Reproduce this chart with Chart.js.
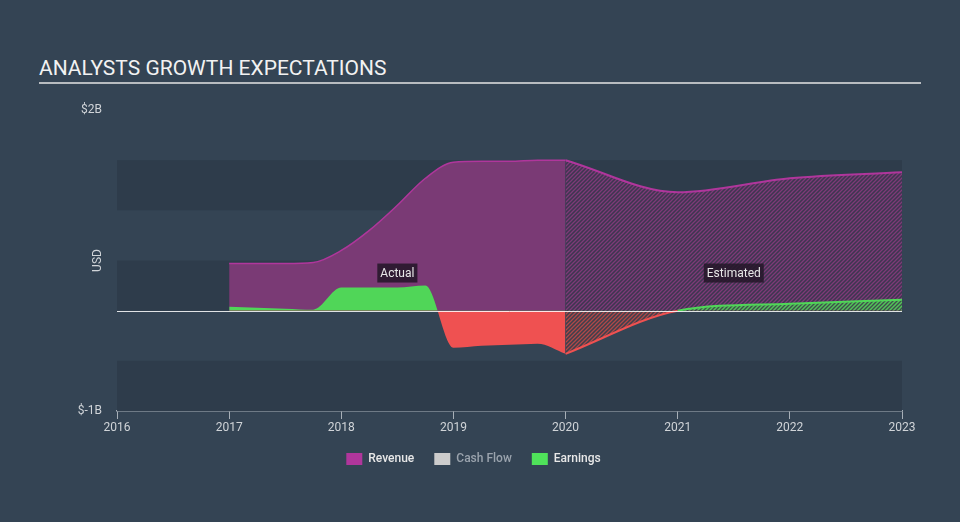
<!DOCTYPE html>
<html>
<head>
<meta charset="utf-8">
<script src="https://cdn.jsdelivr.net/npm/chart.js@4.4.0/dist/chart.umd.min.js"></script>
<style>
  html, body { margin: 0; padding: 0; background: #344454; }
  #wrap { position: relative; width: 960px; height: 522px; }
  #title {
    position: absolute; left: 39px; top: 57px; width: 882px;
    font-family: Roboto, sans-serif; font-size: 21px; color: #f2f2f2;
    padding-bottom: 3px; border-bottom: 2px solid #b8bcc0; line-height: 22px;
  }
  canvas { position: absolute; left: 0; top: 0; }
</style>
</head>
<body>
<div id="wrap">
  <div id="title">ANALYSTS GROWTH EXPECTATIONS</div>
  <canvas id="c" width="960" height="522"></canvas>
</div>
<script>
// values in $B, x in years
const revenueYears = [2017, 2017.25, 2017.5, 2017.75, 2018, 2018.25, 2018.5, 2018.75, 2019, 2019.25, 2019.5, 2019.75, 2020];
const revenueActual = [0.47, 0.47, 0.47, 0.48, 0.60, 0.80, 1.05, 1.32, 1.48, 1.49, 1.49, 1.50, 1.50];
const estYears = [2020, 2021, 2022, 2023];
const revenueEst = [1.50, 1.18, 1.32, 1.38];
const earningsYears = [2017, 2017.25, 2017.5, 2017.75, 2018, 2018.25, 2018.5, 2018.75, 2019, 2019.25, 2019.5, 2019.75, 2020];
const earningsActual = [0.04, 0.03, 0.02, 0.01, 0.23, 0.23, 0.23, 0.25, -0.37, -0.35, -0.34, -0.33, -0.43];
const earningsEst = [-0.43, 0.0, 0.07, 0.11];
const yearTicks = [2016, 2017, 2018, 2019, 2020, 2021, 2022, 2023];

const pts = (xs, ys) => xs.map((x, i) => ({ x: x, y: ys[i] }));

function hatch(bg, line) {
  var p = document.createElement('canvas');
  p.width = 4; p.height = 4;
  var c = p.getContext('2d');
  c.fillStyle = bg; c.fillRect(0, 0, 4, 4);
  c.strokeStyle = line; c.lineWidth = 1.3;
  c.beginPath();
  c.moveTo(0, 4); c.lineTo(4, 0);
  c.moveTo(-1, 1); c.lineTo(1, -1);
  c.moveTo(3, 5); c.lineTo(5, 3);
  c.stroke();
  return document.getElementById('c').getContext('2d').createPattern(p, 'repeat');
}

const extras = {
  id: 'extras',
  beforeDatasetsDraw(chart) {
    var ctx = chart.ctx, a = chart.chartArea, y = chart.scales.y;
    ctx.save();
    ctx.fillStyle = '#2e3c4b';
    [[1, 1.5], [0, 0.5], [-1, -0.5]].forEach(function (b) {
      var t = y.getPixelForValue(b[1]), bt = y.getPixelForValue(b[0]);
      ctx.fillRect(a.left, t, a.right - a.left, bt - t);
    });
    ctx.restore();
  },
  afterDatasetsDraw(chart) {
    var ctx = chart.ctx, a = chart.chartArea, x = chart.scales.x, y = chart.scales.y;
    ctx.save();
    var z = Math.round(y.getPixelForValue(0)) + 0.5;
    ctx.strokeStyle = 'rgba(255,255,255,0.85)';
    ctx.lineWidth = 1;
    ctx.beginPath(); ctx.moveTo(a.left, z); ctx.lineTo(a.right, z); ctx.stroke();

    ctx.font = '12px Roboto';
    ctx.textAlign = 'center'; ctx.textBaseline = 'middle';
    [['Actual', 2018.5], ['Estimated', 2021.5]].forEach(function (l) {
      var cx = x.getPixelForValue(l[1]), cy = y.getPixelForValue(0.38);
      var w = ctx.measureText(l[0]).width + 6;
      ctx.fillStyle = 'rgba(35,22,40,0.85)';
      ctx.fillRect(cx - w / 2, cy - 9, w, 19);
      ctx.fillStyle = '#e8e8e8';
      ctx.fillText(l[0], cx, cy + 1);
    });

    ctx.translate(a.left - 19, y.getPixelForValue(0.5));
    ctx.rotate(-Math.PI / 2);
    ctx.fillStyle = '#d0d4d8';
    ctx.fillText('USD', 0, 0);
    ctx.restore();
  }
};

const green = '#50d658', red = '#ef5151';

new Chart(document.getElementById('c'), {
  type: 'line',
  data: {
    datasets: [
      {
        label: 'Earnings', data: pts(earningsYears, earningsActual), order: 0,
        fill: { target: 'origin', above: green, below: red },
        borderColor: green, borderWidth: 0, pointRadius: 0, cubicInterpolationMode: 'monotone'
      },
      {
        label: 'EarningsEst', data: pts(estYears, earningsEst), order: 0,
        fill: { target: 'origin', above: hatch('rgba(60,110,70,0.5)', '#4fc957'), below: hatch('rgba(70,60,70,0.5)', '#b04848') },
        borderColor: green, borderWidth: 2, pointRadius: 0, cubicInterpolationMode: 'monotone',
        segment: { borderColor: c => (c.p0.parsed.y < 0 || c.p1.parsed.y < -0.001) ? red : green }
      },
      {
        label: 'Revenue', data: pts(revenueYears, revenueActual), order: 1,
        fill: 'origin', backgroundColor: '#7a3a75', borderColor: '#b0369c', borderWidth: 1.5,
        pointRadius: 0, cubicInterpolationMode: 'monotone'
      },
      {
        label: 'RevenueEst', data: pts(estYears, revenueEst), order: 1,
        fill: 'origin', backgroundColor: hatch('#3d3650', '#7e3a78'), borderColor: '#b0369c', borderWidth: 2,
        pointRadius: 0, cubicInterpolationMode: 'monotone'
      },
      { label: 'Cash Flow', data: [], order: 2, borderColor: '#cccccc', backgroundColor: '#cccccc' }
    ]
  },
  options: {
    responsive: false, animation: false,
    layout: { padding: { top: 110, right: 58, left: 45, bottom: 47 } },
    plugins: {
      tooltip: { enabled: false },
      legend: {
        position: 'bottom',
        onClick: null,
        labels: {
          font: { family: 'Roboto', size: 12, weight: '500' }, boxWidth: 16, boxHeight: 12, padding: 20,
          generateLabels: () => [
            { text: 'Revenue', fillStyle: '#b0369c', strokeStyle: '#b0369c', lineWidth: 0, fontColor: '#e8e8e8' },
            { text: 'Cash Flow', fillStyle: '#cccccc', strokeStyle: '#cccccc', lineWidth: 0, fontColor: '#9aa3ad' },
            { text: 'Earnings', fillStyle: '#4fe25a', strokeStyle: '#4fe25a', lineWidth: 0, fontColor: '#e8e8e8' }
          ]
        }
      }
    },
    scales: {
      x: {
        type: 'linear', min: 2016, max: 2023,
        afterBuildTicks: s => { s.ticks = yearTicks.map(v => ({ value: v })); },
        afterFit: s => { s.height = 22; },
        ticks: { callback: v => String(v), color: '#d0d4d8', font: { family: 'Roboto', size: 12 }, padding: 2, maxRotation: 0 },
        grid: { drawOnChartArea: false, color: '#a8b0b8', tickLength: 8 },
        border: { color: '#a8b0b8', width: 1.5 }
      },
      y: {
        min: -1, max: 2,
        afterFit: s => { s.width = 72; },
        ticks: { stepSize: 0.5, color: '#d0d4d8', font: { family: 'Roboto', size: 12 }, padding: 7,
          callback: v => v === 2 ? '$2B' : (v === -1 ? '$-1B' : '') },
        grid: { display: false },
        border: { display: false }
      }
    }
  },
  plugins: [extras]
});
</script>
</body>
</html>
